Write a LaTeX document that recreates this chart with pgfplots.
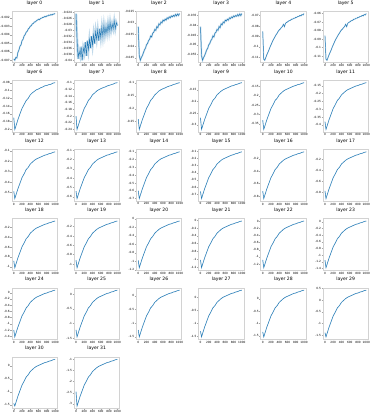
\documentclass[border=0pt]{standalone}
\usepackage{fontspec}
\setmainfont{DejaVu Sans}
\usepackage{pgfplots}
\pgfplotsset{compat=1.18}
\usepgfplotslibrary{groupplots}
\definecolor{mplblue}{HTML}{1F77B4}

\pgfplotsset{
  lay/.style={
    scale only axis, width=46pt, height=52pt,
    xmin=-50, xmax=1050, enlarge y limits=0.05,
    xtick={0,200,400,600,800,1000},
    tick pos=left, tick align=outside, major tick length=1.3pt,
    axis line style={gray!35, line width=0.4pt},
    tick style={gray!70, line width=0.3pt},
    ticklabel style={font=\fontsize{2.9}{3.3}\selectfont, inner sep=0.5pt},
    title style={font=\fontsize{4.6}{5}\selectfont, inner sep=0.6pt, yshift=-0.5pt},
    scaled y ticks=false,
    /pgf/number format/assume math mode=true,
    /pgf/number format/1000 sep={},
    /pgf/number format/fixed, /pgf/number format/precision=3,
    max space between ticks=10,
  },
  bd/.style={mplblue, line width=0.45pt, preaction={draw, mplblue!28, line width=#1}},
}

\begin{document}
\begin{tikzpicture}
\begin{groupplot}[group style={group size=6 by 6, horizontal sep=17pt, vertical sep=18pt}, lay]
\nextgroupplot[title={layer 0}]
\addplot[bd=1.4pt] coordinates {(0,-0.00684)(25,-0.00700)(50,-0.00667)(75,-0.00673)(100,-0.00607)(125,-0.00579)(150,-0.00535)(175,-0.00519)(200,-0.00469)(225,-0.00453)(250,-0.00414)(275,-0.00398)(300,-0.00370)(325,-0.00359)(350,-0.00332)(375,-0.00321)(400,-0.00299)(425,-0.00293)(450,-0.00271)(475,-0.00266)(500,-0.00249)(525,-0.00249)(550,-0.00233)(575,-0.00227)(600,-0.00216)(625,-0.00222)(650,-0.00205)(675,-0.00205)(700,-0.00194)(725,-0.00194)(750,-0.00183)(775,-0.00189)(800,-0.00178)(825,-0.00178)(850,-0.00167)(875,-0.00172)(900,-0.00161)(925,-0.00167)(950,-0.00156)(975,-0.00156)(1000,-0.00150)};
\nextgroupplot[title={layer 1}]
\addplot[bd=2.4pt] coordinates {(0,-0.0245)(25,-0.0330)(50,-0.0395)(75,-0.0370)(100,-0.0385)(125,-0.0355)(150,-0.0400)(175,-0.0360)(200,-0.0375)(225,-0.0340)(250,-0.0385)(275,-0.0335)(300,-0.0365)(325,-0.0330)(350,-0.0360)(375,-0.0320)(400,-0.0350)(425,-0.0315)(450,-0.0345)(475,-0.0305)(500,-0.0330)(525,-0.0300)(550,-0.0335)(575,-0.0295)(600,-0.0325)(625,-0.0290)(650,-0.0320)(675,-0.0285)(700,-0.0315)(725,-0.0290)(750,-0.0310)(775,-0.0280)(800,-0.0305)(825,-0.0275)(850,-0.0300)(875,-0.0280)(900,-0.0295)(925,-0.0270)(950,-0.0295)(975,-0.0275)(1000,-0.0285)};
\nextgroupplot[title={layer 2}]
\addplot[bd=1.6pt] coordinates {(0,-0.0316)(25,-0.0440)(50,-0.0460)(75,-0.0448)(100,-0.0440)(125,-0.0428)(150,-0.0416)(175,-0.0408)(200,-0.0394)(225,-0.0388)(250,-0.0376)(275,-0.0370)(300,-0.0356)(325,-0.0360)(350,-0.0344)(375,-0.0340)(400,-0.0328)(425,-0.0332)(450,-0.0316)(475,-0.0320)(500,-0.0304)(525,-0.0308)(550,-0.0296)(575,-0.0300)(600,-0.0288)(625,-0.0292)(650,-0.0284)(675,-0.0288)(700,-0.0278)(725,-0.0282)(750,-0.0274)(775,-0.0278)(800,-0.0270)(825,-0.0274)(850,-0.0268)(875,-0.0272)(900,-0.0264)(925,-0.0270)(950,-0.0262)(975,-0.0268)(1000,-0.0260)};
\nextgroupplot[title={layer 3}]
\addplot[bd=1.6pt] coordinates {(0,-0.0407)(25,-0.0556)(50,-0.0580)(75,-0.0566)(100,-0.0556)(125,-0.0542)(150,-0.0527)(175,-0.0518)(200,-0.0501)(225,-0.0494)(250,-0.0479)(275,-0.0472)(300,-0.0455)(325,-0.0460)(350,-0.0441)(375,-0.0436)(400,-0.0422)(425,-0.0426)(450,-0.0407)(475,-0.0412)(500,-0.0393)(525,-0.0398)(550,-0.0383)(575,-0.0388)(600,-0.0374)(625,-0.0378)(650,-0.0369)(675,-0.0374)(700,-0.0362)(725,-0.0366)(750,-0.0357)(775,-0.0362)(800,-0.0352)(825,-0.0357)(850,-0.0350)(875,-0.0354)(900,-0.0345)(925,-0.0352)(950,-0.0342)(975,-0.0350)(1000,-0.0340)};
\nextgroupplot[title={layer 4}]
\addplot[bd=1.1pt] coordinates {(0,-0.0851)(25,-0.1121)(50,-0.1130)(75,-0.1103)(100,-0.1076)(125,-0.1054)(150,-0.1031)(175,-0.1004)(200,-0.0982)(225,-0.0959)(250,-0.0937)(275,-0.0919)(300,-0.0901)(325,-0.0883)(350,-0.0869)(375,-0.0851)(400,-0.0838)(425,-0.0829)(450,-0.0815)(475,-0.0806)(500,-0.0784)(525,-0.0806)(550,-0.0775)(575,-0.0766)(600,-0.0761)(625,-0.0752)(650,-0.0748)(675,-0.0743)(700,-0.0734)(725,-0.0734)(750,-0.0725)(775,-0.0725)(800,-0.0716)(825,-0.0716)(850,-0.0707)(875,-0.0707)(900,-0.0698)(925,-0.0703)(950,-0.0689)(975,-0.0694)(1000,-0.0680)};
\nextgroupplot[title={layer 5}]
\addplot[bd=1.1pt] coordinates {(0,-0.0859)(25,-0.1139)(50,-0.1150)(75,-0.1117)(100,-0.1084)(125,-0.1057)(150,-0.1029)(175,-0.0996)(200,-0.0969)(225,-0.0941)(250,-0.0914)(275,-0.0892)(300,-0.0870)(325,-0.0848)(350,-0.0831)(375,-0.0809)(400,-0.0793)(425,-0.0782)(450,-0.0765)(475,-0.0754)(500,-0.0727)(525,-0.0754)(550,-0.0716)(575,-0.0705)(600,-0.0699)(625,-0.0688)(650,-0.0683)(675,-0.0677)(700,-0.0666)(725,-0.0666)(750,-0.0655)(775,-0.0655)(800,-0.0644)(825,-0.0644)(850,-0.0633)(875,-0.0633)(900,-0.0622)(925,-0.0628)(950,-0.0611)(975,-0.0617)(1000,-0.0600)};
\nextgroupplot[title={layer 6}]
\addplot[bd=0.8pt] coordinates {(0,-0.17)(25,-0.200)(50,-0.192)(100,-0.175)(150,-0.160)(200,-0.146)(250,-0.136)(300,-0.126)(350,-0.120)(400,-0.111)(450,-0.106)(500,-0.102)(550,-0.098)(600,-0.096)(650,-0.093)(700,-0.091)(750,-0.088)(800,-0.087)(850,-0.085)(900,-0.084)(950,-0.081)(1000,-0.080)};
\nextgroupplot[title={layer 7}]
\addplot[bd=0.8pt] coordinates {(0,-0.20)(25,-0.240)(50,-0.230)(100,-0.211)(150,-0.194)(200,-0.177)(250,-0.166)(300,-0.153)(350,-0.146)(400,-0.136)(450,-0.131)(500,-0.125)(550,-0.121)(600,-0.118)(650,-0.115)(700,-0.113)(750,-0.110)(800,-0.108)(850,-0.106)(900,-0.104)(950,-0.101)(1000,-0.100)};
\nextgroupplot[title={layer 8}]
\addplot[bd=0.8pt] coordinates {(0,-0.24)(25,-0.280)(50,-0.267)(100,-0.242)(150,-0.221)(200,-0.199)(250,-0.185)(300,-0.168)(350,-0.159)(400,-0.147)(450,-0.140)(500,-0.132)(550,-0.127)(600,-0.123)(650,-0.120)(700,-0.116)(750,-0.113)(800,-0.111)(850,-0.107)(900,-0.105)(950,-0.102)(1000,-0.100)};
\nextgroupplot[title={layer 9}]
\addplot[bd=0.8pt] coordinates {(0,-0.27)(25,-0.320)(50,-0.306)(100,-0.278)(150,-0.254)(200,-0.230)(250,-0.214)(300,-0.196)(350,-0.186)(400,-0.172)(450,-0.164)(500,-0.156)(550,-0.150)(600,-0.146)(650,-0.142)(700,-0.138)(750,-0.134)(800,-0.132)(850,-0.128)(900,-0.126)(950,-0.122)(1000,-0.120)};
\nextgroupplot[title={layer 10}]
\addplot[bd=0.8pt] coordinates {(0,-0.33)(25,-0.380)(50,-0.363)(100,-0.328)(150,-0.298)(200,-0.268)(250,-0.248)(300,-0.225)(350,-0.213)(400,-0.195)(450,-0.185)(500,-0.175)(550,-0.168)(600,-0.163)(650,-0.158)(700,-0.153)(750,-0.148)(800,-0.145)(850,-0.140)(900,-0.138)(950,-0.133)(1000,-0.130)};
\nextgroupplot[title={layer 11}]
\addplot[bd=0.8pt] coordinates {(0,-0.38)(25,-0.430)(50,-0.409)(100,-0.367)(150,-0.331)(200,-0.295)(250,-0.271)(300,-0.244)(350,-0.229)(400,-0.208)(450,-0.196)(500,-0.184)(550,-0.175)(600,-0.169)(650,-0.163)(700,-0.157)(750,-0.151)(800,-0.148)(850,-0.142)(900,-0.139)(950,-0.133)(1000,-0.130)};
\nextgroupplot[title={layer 12}]
\addplot[bd=0.8pt] coordinates {(0,-0.49)(25,-0.560)(50,-0.529)(100,-0.466)(150,-0.412)(200,-0.358)(250,-0.322)(300,-0.281)(350,-0.259)(400,-0.227)(450,-0.209)(500,-0.191)(550,-0.178)(600,-0.169)(650,-0.160)(700,-0.151)(750,-0.142)(800,-0.137)(850,-0.128)(900,-0.124)(950,-0.115)(1000,-0.110)};
\nextgroupplot[title={layer 13}]
\addplot[bd=0.8pt] coordinates {(0,-0.54)(25,-0.620)(50,-0.585)(100,-0.515)(150,-0.455)(200,-0.395)(250,-0.355)(300,-0.310)(350,-0.285)(400,-0.250)(450,-0.230)(500,-0.210)(550,-0.195)(600,-0.185)(650,-0.175)(700,-0.165)(750,-0.155)(800,-0.150)(850,-0.140)(900,-0.135)(950,-0.125)(1000,-0.120)};
\nextgroupplot[title={layer 14}]
\addplot[bd=0.8pt] coordinates {(0,-0.60)(25,-0.700)(50,-0.658)(100,-0.574)(150,-0.502)(200,-0.430)(250,-0.382)(300,-0.328)(350,-0.298)(400,-0.256)(450,-0.232)(500,-0.208)(550,-0.190)(600,-0.178)(650,-0.166)(700,-0.154)(750,-0.142)(800,-0.136)(850,-0.124)(900,-0.118)(950,-0.106)(1000,-0.100)};
\nextgroupplot[title={layer 15}]
\addplot[bd=0.8pt] coordinates {(0,-0.66)(25,-0.760)(50,-0.715)(100,-0.624)(150,-0.546)(200,-0.468)(250,-0.416)(300,-0.357)(350,-0.325)(400,-0.279)(450,-0.253)(500,-0.227)(550,-0.208)(600,-0.195)(650,-0.182)(700,-0.169)(750,-0.156)(800,-0.149)(850,-0.136)(900,-0.130)(950,-0.117)(1000,-0.110)};
\nextgroupplot[title={layer 16}]
\addplot[bd=0.8pt] coordinates {(0,-0.72)(25,-0.840)(50,-0.788)(100,-0.683)(150,-0.593)(200,-0.503)(250,-0.443)(300,-0.375)(350,-0.338)(400,-0.285)(450,-0.255)(500,-0.225)(550,-0.203)(600,-0.188)(650,-0.173)(700,-0.158)(750,-0.143)(800,-0.135)(850,-0.120)(900,-0.113)(950,-0.098)(1000,-0.090)};
\nextgroupplot[title={layer 17}]
\addplot[bd=0.8pt] coordinates {(0,-0.78)(25,-0.920)(50,-0.861)(100,-0.742)(150,-0.640)(200,-0.538)(250,-0.470)(300,-0.393)(350,-0.351)(400,-0.291)(450,-0.257)(500,-0.223)(550,-0.198)(600,-0.181)(650,-0.164)(700,-0.147)(750,-0.130)(800,-0.121)(850,-0.104)(900,-0.096)(950,-0.079)(1000,-0.070)};
\nextgroupplot[title={layer 18}]
\addplot[bd=0.8pt] coordinates {(0,-0.88)(25,-1.020)(50,-0.954)(100,-0.821)(150,-0.707)(200,-0.593)(250,-0.517)(300,-0.431)(350,-0.384)(400,-0.317)(450,-0.279)(500,-0.241)(550,-0.213)(600,-0.194)(650,-0.175)(700,-0.156)(750,-0.137)(800,-0.127)(850,-0.108)(900,-0.099)(950,-0.080)(1000,-0.070)};
\nextgroupplot[title={layer 19}]
\addplot[bd=0.8pt] coordinates {(0,-0.92)(25,-1.080)(50,-1.010)(100,-0.870)(150,-0.750)(200,-0.630)(250,-0.550)(300,-0.460)(350,-0.410)(400,-0.340)(450,-0.300)(500,-0.260)(550,-0.230)(600,-0.210)(650,-0.190)(700,-0.170)(750,-0.150)(800,-0.140)(850,-0.120)(900,-0.110)(950,-0.090)(1000,-0.080)};
\nextgroupplot[title={layer 20}]
\addplot[bd=0.8pt] coordinates {(0,-0.98)(25,-1.150)(50,-1.073)(100,-0.919)(150,-0.787)(200,-0.655)(250,-0.567)(300,-0.468)(350,-0.413)(400,-0.336)(450,-0.292)(500,-0.248)(550,-0.215)(600,-0.193)(650,-0.171)(700,-0.149)(750,-0.127)(800,-0.116)(850,-0.094)(900,-0.083)(950,-0.061)(1000,-0.050)};
\nextgroupplot[title={layer 21}]
\addplot[bd=0.8pt] coordinates {(0,-1.02)(25,-1.220)(50,-1.136)(100,-0.968)(150,-0.824)(200,-0.680)(250,-0.584)(300,-0.476)(350,-0.416)(400,-0.332)(450,-0.284)(500,-0.236)(550,-0.200)(600,-0.176)(650,-0.152)(700,-0.128)(750,-0.104)(800,-0.092)(850,-0.068)(900,-0.056)(950,-0.032)(1000,-0.020)};
\nextgroupplot[title={layer 22}]
\addplot[bd=0.8pt] coordinates {(0,-1.08)(25,-1.300)(50,-1.209)(100,-1.027)(150,-0.871)(200,-0.715)(250,-0.611)(300,-0.494)(350,-0.429)(400,-0.338)(450,-0.286)(500,-0.234)(550,-0.195)(600,-0.169)(650,-0.143)(700,-0.117)(750,-0.091)(800,-0.078)(850,-0.052)(900,-0.039)(950,-0.013)(1000,0.000)};
\nextgroupplot[title={layer 23}]
\addplot[bd=0.8pt] coordinates {(0,-1.15)(25,-1.380)(50,-1.282)(100,-1.086)(150,-0.918)(200,-0.750)(250,-0.638)(300,-0.512)(350,-0.442)(400,-0.344)(450,-0.288)(500,-0.232)(550,-0.190)(600,-0.162)(650,-0.134)(700,-0.106)(750,-0.078)(800,-0.064)(850,-0.036)(900,-0.022)(950,0.006)(1000,0.020)};
\nextgroupplot[title={layer 24}]
\addplot[bd=0.8pt] coordinates {(0,-1.20)(25,-1.420)(50,-1.315)(100,-1.105)(150,-0.925)(200,-0.745)(250,-0.625)(300,-0.490)(350,-0.415)(400,-0.310)(450,-0.250)(500,-0.190)(550,-0.145)(600,-0.115)(650,-0.085)(700,-0.055)(750,-0.025)(800,-0.010)(850,0.020)(900,0.035)(950,0.065)(1000,0.080)};
\nextgroupplot[title={layer 25}]
\addplot[bd=0.8pt] coordinates {(0,-1.22)(25,-1.460)(50,-1.348)(100,-1.124)(150,-0.932)(200,-0.740)(250,-0.612)(300,-0.468)(350,-0.388)(400,-0.276)(450,-0.212)(500,-0.148)(550,-0.100)(600,-0.068)(650,-0.036)(700,-0.004)(750,0.028)(800,0.044)(850,0.076)(900,0.092)(950,0.124)(1000,0.140)};
\nextgroupplot[title={layer 26}]
\addplot[bd=0.8pt] coordinates {(0,-1.25)(25,-1.500)(50,-1.381)(100,-1.143)(150,-0.939)(200,-0.735)(250,-0.599)(300,-0.446)(350,-0.361)(400,-0.242)(450,-0.174)(500,-0.106)(550,-0.055)(600,-0.021)(650,0.013)(700,0.047)(750,0.081)(800,0.098)(850,0.132)(900,0.149)(950,0.183)(1000,0.200)};
\nextgroupplot[title={layer 27}]
\addplot[bd=0.8pt] coordinates {(0,-1.30)(25,-1.520)(50,-1.394)(100,-1.142)(150,-0.926)(200,-0.710)(250,-0.566)(300,-0.404)(350,-0.314)(400,-0.188)(450,-0.116)(500,-0.044)(550,0.010)(600,0.046)(650,0.082)(700,0.118)(750,0.154)(800,0.172)(850,0.208)(900,0.226)(950,0.262)(1000,0.280)};
\nextgroupplot[title={layer 28}]
\addplot[bd=0.8pt] coordinates {(0,-1.35)(25,-1.550)(50,-1.417)(100,-1.151)(150,-0.923)(200,-0.695)(250,-0.543)(300,-0.372)(350,-0.277)(400,-0.144)(450,-0.068)(500,0.008)(550,0.065)(600,0.103)(650,0.141)(700,0.179)(750,0.217)(800,0.236)(850,0.274)(900,0.293)(950,0.331)(1000,0.350)};
\nextgroupplot[title={layer 29}]
\addplot[bd=0.8pt] coordinates {(0,-1.40)(25,-1.580)(50,-1.440)(100,-1.160)(150,-0.920)(200,-0.680)(250,-0.520)(300,-0.340)(350,-0.240)(400,-0.100)(450,-0.020)(500,0.060)(550,0.120)(600,0.160)(650,0.200)(700,0.240)(750,0.280)(800,0.300)(850,0.340)(900,0.360)(950,0.400)(1000,0.420)};
\nextgroupplot[title={layer 30}]
\addplot[bd=0.8pt] coordinates {(0,-1.45)(25,-1.550)(50,-1.424)(100,-1.172)(150,-0.956)(200,-0.740)(250,-0.596)(300,-0.434)(350,-0.344)(400,-0.218)(450,-0.146)(500,-0.074)(550,-0.020)(600,0.016)(650,0.052)(700,0.088)(750,0.124)(800,0.142)(850,0.178)(900,0.196)(950,0.232)(1000,0.250)};
\nextgroupplot[title={layer 31}]
\addplot[bd=0.8pt] coordinates {(0,-2.45)(25,-3.100)(50,-2.953)(100,-2.659)(150,-2.407)(200,-2.155)(250,-1.987)(300,-1.798)(350,-1.693)(400,-1.546)(450,-1.462)(500,-1.378)(550,-1.315)(600,-1.273)(650,-1.231)(700,-1.189)(750,-1.147)(800,-1.126)(850,-1.084)(900,-1.063)(950,-1.021)(1000,-1.000)};
\end{groupplot}
\end{tikzpicture}
\end{document}
